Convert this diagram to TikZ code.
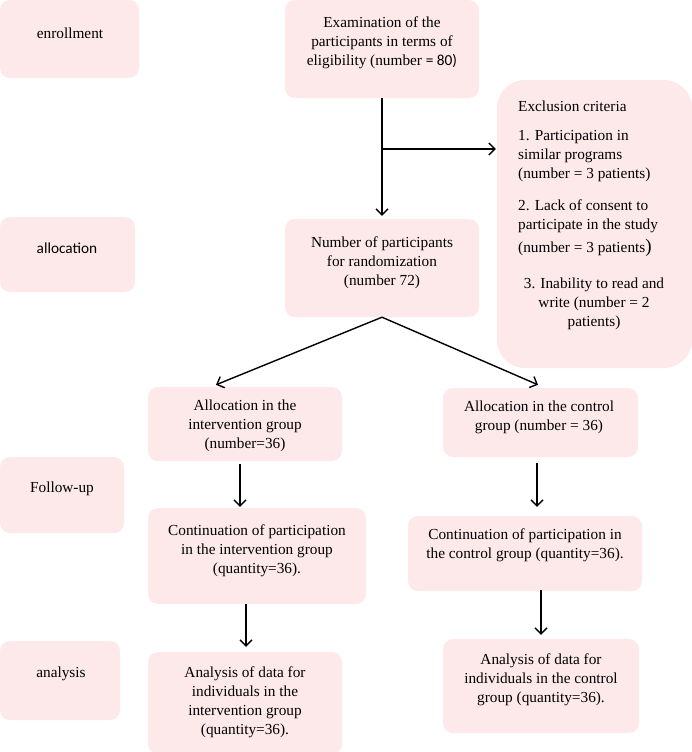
\documentclass[tikz,border=0pt]{standalone}
\usepackage{fontspec}
\setmainfont{Liberation Serif}
\newfontfamily\carlito{Carlito}
\usetikzlibrary{arrows.meta}
\definecolor{boxpink}{RGB}{253,233,234}
\begin{document}
\begin{tikzpicture}[x=1pt,y=-1pt,
  box/.style={fill=boxpink, draw=none, rounded corners=10pt, inner sep=0pt},
  lbl/.style={align=center, font=\fontsize{15.3}{19}\selectfont, inner sep=0pt},
  lbll/.style={align=left, anchor=west, font=\fontsize{15.3}{19}\selectfont, inner sep=0pt},
  arr/.style={draw=black, line width=1.4pt, -{Straight Barb[length=6pt,width=12pt]}}]
\useasboundingbox (0,0) rectangle (692,752);
% boxes
\node[box, minimum width=139pt, minimum height=78pt] (enr) at (69.5,39) {};
\node[box, minimum width=194pt, minimum height=98pt] (exam) at (382,49) {};
\node[box, minimum width=195pt, minimum height=288pt, rounded corners=28pt] (excl) at (594.5,224) {};
\node[box, minimum width=135pt, minimum height=75pt] (alloc) at (67.5,254.5) {};
\node[box, minimum width=194pt, minimum height=98pt] (num) at (382,268) {};
\node[box, minimum width=194pt, minimum height=74pt] (intA) at (245,424) {};
\node[box, minimum width=195pt, minimum height=69pt] (ctrlA) at (540.5,422.5) {};
\node[box, minimum width=124pt, minimum height=76pt] (fol) at (62,495) {};
\node[box, minimum width=218pt, minimum height=96pt] (contA) at (257,556) {};
\node[box, minimum width=234pt, minimum height=75pt] (contC) at (525,553.5) {};
\node[box, minimum width=120pt, minimum height=79pt] (ana) at (60,680.5) {};
\node[box, minimum width=194pt, minimum height=102pt] (anaA) at (245,703) {};
\node[box, minimum width=196pt, minimum height=94pt] (anaC) at (541,686) {};
% texts
\node[lbl] (enrT) at (70,33) {enrollment};
\node[lbl] (examT) at (382,43) {Examination of the\\participants in terms of\\eligibility (number {\carlito = 80)}};
\node[lbll] (exclT0) at (518,106) {Exclusion criteria};
\node[lbll] (exclT1) at (518,156) {1. Participation in\\similar programs\\(number = 3 patients)};
\node[lbll] (exclT2) at (518,228) {2. Lack of consent to\\participate in the study\\[4pt](number = 3 patients{\fontsize{19}{19}\selectfont)}};
\node[lbl] (exclT3) at (594,304) {3. Inability to read and\\write (number = 2\\patients)};
\node[lbl, font=\fontsize{15.3}{19}\carlito] (allocT) at (67,248) {allocation};
\node[lbl] (numT) at (382,263) {Number of participants\\for randomization\\(number 72)};
\node[lbl] (intAT) at (245,426) {Allocation in the\\intervention group\\(number=36)};
\node[lbl] (ctrlAT) at (539,417.5) {Allocation in the control\\group (number = 36)};
\node[lbl] (folT) at (62,489) {Follow-up};
\node[lbl] (contAT) at (257,551) {Continuation of participation\\in the intervention group\\(quantity=36).};
\node[lbl] (contCT) at (525,545.5) {Continuation of participation in\\the control group (quantity=36).};
\node[lbl] (anaT) at (61,674) {analysis};
\node[lbl] (anaAT) at (245,702) {Analysis of data for\\individuals in the\\intervention group\\(quantity=36).};
\node[lbl] (anaCT) at (541,680) {Analysis of data for\\individuals in the control\\group (quantity=36).};
% connectors
\draw[arr, shorten >=3pt] (exam.south) -- (num.north);
\coordinate (br) at (382,149);
\draw[arr, shorten >=1pt] (br) -- (br -| excl.west);
\draw[arr] (num.south) -- ([xshift=-29pt,yshift=2pt]intA.north);
\draw[arr] (num.south) -- ([xshift=-2.5pt,yshift=3pt]ctrlA.north);
\draw[arr] ([xshift=-5pt,yshift=-3pt]intA.south) -- ([xshift=-17pt,yshift=1pt]contA.north);
\draw[arr] ([xshift=-3.5pt,yshift=-6pt]ctrlA.south) -- ([xshift=12pt,yshift=9pt]contC.north);
\draw[arr] ([xshift=-11pt]contA.south) -- ([xshift=1pt,yshift=5pt]anaA.north);
\draw[arr] ([xshift=16pt,yshift=1pt]contC.south) -- ([yshift=4pt]anaC.north);
\end{tikzpicture}
\end{document}
